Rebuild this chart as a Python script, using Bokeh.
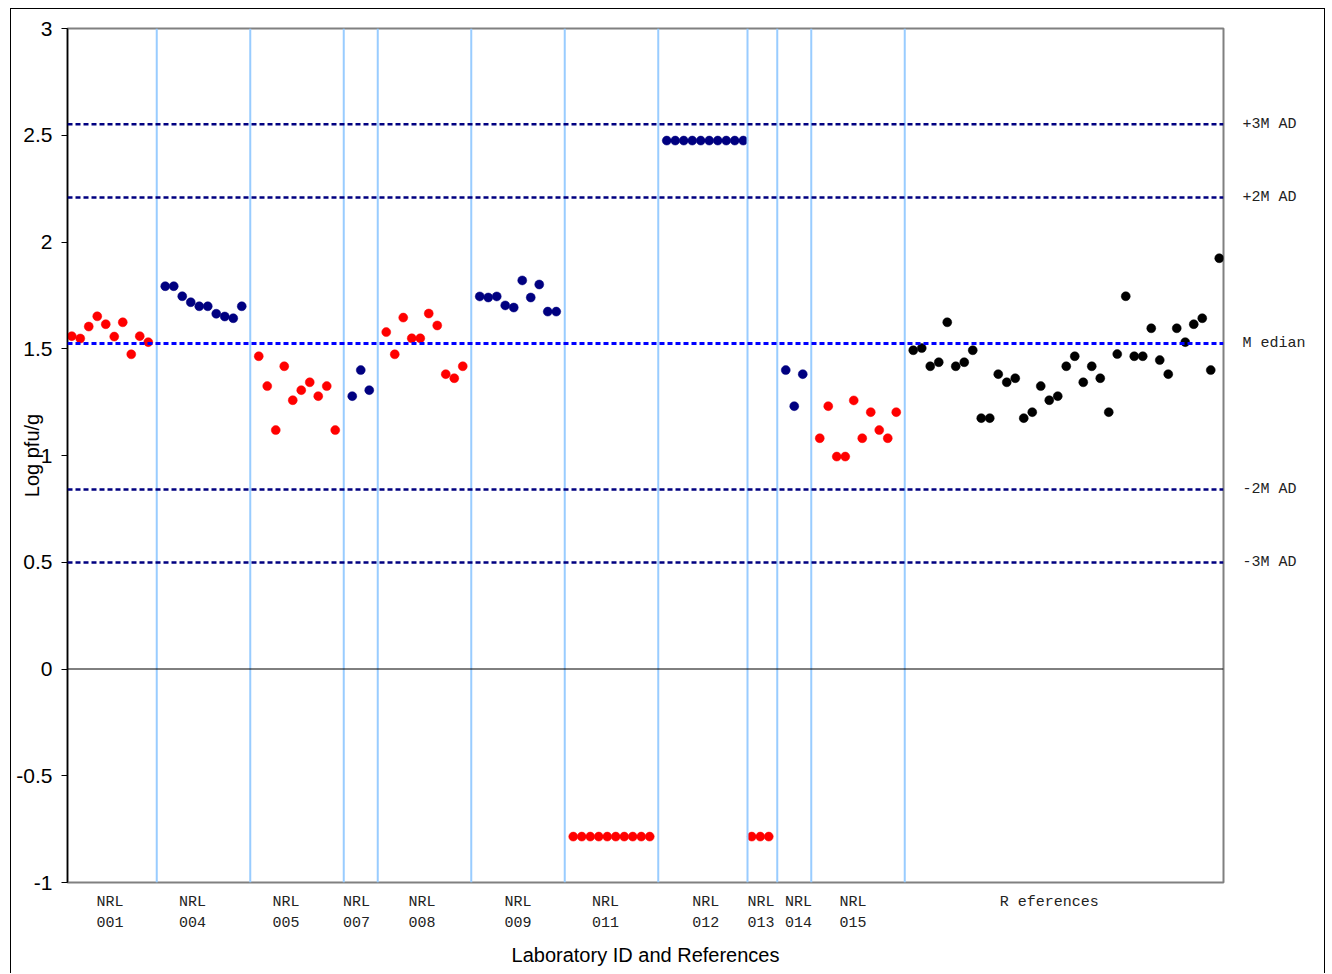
from math import pi
from bokeh.plotting import figure
from bokeh.models import ColumnDataSource, Span, FixedTicker, LinearAxis
from bokeh.embed import file_html
from bokeh.resources import INLINE

# ---------------- data ----------------
group_top = ["NRL"] * 11
group_bottom = ["001", "004", "005", "007", "008", "009", "011", "012", "013", "014", "015"]
group_start = [1, 12, 23, 34, 38, 49, 60, 71, 81, 85, 89, 100]
group_colors = ["#FF0000", "#000080", "#FF0000", "#000080", "#FF0000", "#000080",
                "#FF0000", "#000080", "#FF0000", "#000080", "#FF0000", "#000000"]

nrl001 = [1.559, 1.548, 1.604, 1.652, 1.615, 1.557, 1.624, 1.474, 1.559, 1.531]
nrl004 = [1.793, 1.793, 1.746, 1.718, 1.699, 1.699, 1.664, 1.651, 1.643, 1.699]
nrl005 = [1.465, 1.325, 1.119, 1.418, 1.259, 1.306, 1.343, 1.278, 1.325, 1.119]
nrl007 = [1.278, 1.400, 1.306]
nrl008 = [1.578, 1.474, 1.646, 1.549, 1.549, 1.665, 1.609, 1.381, 1.362, 1.418]
nrl009 = [1.745, 1.740, 1.745, 1.703, 1.693, 1.820, 1.740, 1.801, 1.674, 1.674]
nrl011 = [-0.785] * 10
nrl012 = [2.475] * 10
nrl013 = [-0.785] * 3
nrl014 = [1.400, 1.231, 1.381]
nrl015 = [1.081, 1.231, 0.995, 0.995, 1.258, 1.081, 1.203, 1.119, 1.081, 1.203]
references = [1.493, 1.503, 1.418, 1.437, 1.624, 1.418, 1.437, 1.493, 1.175, 1.175,
              1.381, 1.343, 1.362, 1.175, 1.203, 1.325, 1.259, 1.278, 1.418, 1.465,
              1.343, 1.418, 1.362, 1.203, 1.475, 1.746, 1.465, 1.465, 1.596, 1.447,
              1.381, 1.596, 1.531, 1.615, 1.643, 1.400, 1.924]

series = [nrl001, nrl004, nrl005, nrl007, nrl008, nrl009, nrl011, nrl012,
          nrl013, nrl014, nrl015, references]

separators = [11, 22, 33, 37, 48, 59, 70, 80.5, 84, 88, 99]
group_label_x = [5.5, 15.2, 26.2, 34.5, 42.2, 53.5, 63.8, 75.6, 82.1, 86.5, 92.9]
references_label = "R eferences"
references_label_x = 116

stat_names = ["+3M AD", "+2M AD", "M edian", "-2M AD", "-3M AD"]
stat_values = [2.551, 2.209, 1.525, 0.841, 0.499]
stat_colors = ["#000080", "#000080", "#0000FF", "#000080", "#000080"]
stat_widths = [2.5, 2.5, 3, 2.5, 2.5]

y_ticks = [-1, -0.5, 0, 0.5, 1, 1.5, 2, 2.5, 3]
y_tick_labels = ["-1", "-0.5", "0", "0.5", "1", "1.5", "2", "2.5", "3"]

# ---------------- build ----------------
xs, ys, cs = [], [], []
for start, vals, col in zip(group_start, series, group_colors):
    for i, v in enumerate(vals):
        xs.append(start + i)
        ys.append(v)
        cs.append(col)
src = ColumnDataSource(dict(x=xs, y=ys, c=cs))

p = figure(width=1315, height=965, x_range=(0.5, 136.5), y_range=(-1, 3),
           output_backend="svg", toolbar_location=None,
           min_border_left=56, min_border_right=103, min_border_top=19,
           min_border_bottom=92)
p.margin = (8, 0, 0, 10)
p.styles = {"border-left": "1px solid black", "border-top": "1px solid black",
            "border-right": "1px solid black"}
p.background_fill_color = "white"
p.border_fill_color = "white"
p.outline_line_color = "#808080"
p.outline_line_width = 2
p.xgrid.visible = False
p.ygrid.visible = False

# left axis
ya = p.yaxis[0]
ya.ticker = FixedTicker(ticks=y_ticks)
ya.major_label_overrides = {t: l for t, l in zip(y_ticks, y_tick_labels)}
ya.major_label_text_font = "Liberation Sans"
ya.major_label_text_font_size = "21px"
ya.major_label_text_color = "black"
ya.major_label_standoff = 9
ya.major_tick_out = 6
ya.major_tick_in = 0
ya.minor_tick_out = 0
ya.minor_tick_in = 0
ya.axis_line_color = "black"
ya.axis_line_width = 1.5
ya.major_tick_line_color = "black"
ya.axis_label = "Log pfu/g"
ya.axis_label_text_font = "Liberation Sans"
ya.axis_label_text_font_size = "20px"
ya.axis_label_text_font_style = "normal"
ya.axis_label_text_color = "black"
ya.axis_label_standoff = -30

# bottom axis: group labels
xa = p.xaxis[0]
label_ticks = group_label_x + [references_label_x]
label_texts = [f"{t}\n{b}" for t, b in zip(group_top, group_bottom)] + [references_label]
xa.ticker = FixedTicker(ticks=label_ticks)
xa.major_label_overrides = {t: l for t, l in zip(label_ticks, label_texts)}
xa.major_label_text_font = "Liberation Mono"
xa.major_label_text_font_size = "15px"
xa.major_label_text_line_height = 1.25
xa.major_label_text_color = "#222222"
xa.major_label_standoff = 11
xa.major_tick_out = 0
xa.major_tick_in = 0
xa.minor_tick_out = 0
xa.minor_tick_in = 0
xa.axis_line_color = None
xa.axis_label = "Laboratory ID and References"
xa.axis_label_text_font = "Liberation Sans"
xa.axis_label_text_font_size = "20px"
xa.axis_label_text_font_style = "normal"
xa.axis_label_text_color = "black"
xa.axis_label_standoff = 9

# right axis: statistic labels
ra = LinearAxis(ticker=FixedTicker(ticks=stat_values))
ra.major_label_overrides = {v: n for v, n in zip(stat_values, stat_names)}
ra.major_label_text_font = "Liberation Mono"
ra.major_label_text_font_size = "15px"
ra.major_label_text_color = "#222222"
ra.major_label_standoff = 19
ra.major_tick_out = 0
ra.major_tick_in = 0
ra.minor_tick_out = 0
ra.minor_tick_in = 0
ra.axis_line_color = None
p.add_layout(ra, "right")

for sx in separators:
    p.add_layout(Span(location=sx, dimension="height", line_color="#99CCFF", line_width=2))

p.add_layout(Span(location=0, dimension="width", line_color="black", line_width=1))

for val, col, w in zip(stat_values, stat_colors, stat_widths):
    p.add_layout(Span(location=val, dimension="width", line_color=col,
                      line_width=w, line_dash="5 3"))

p.scatter("x", "y", source=src, size=9, fill_color="c", line_color="c", line_width=0.5)

open("out.html", "w").write(file_html(p, INLINE))
